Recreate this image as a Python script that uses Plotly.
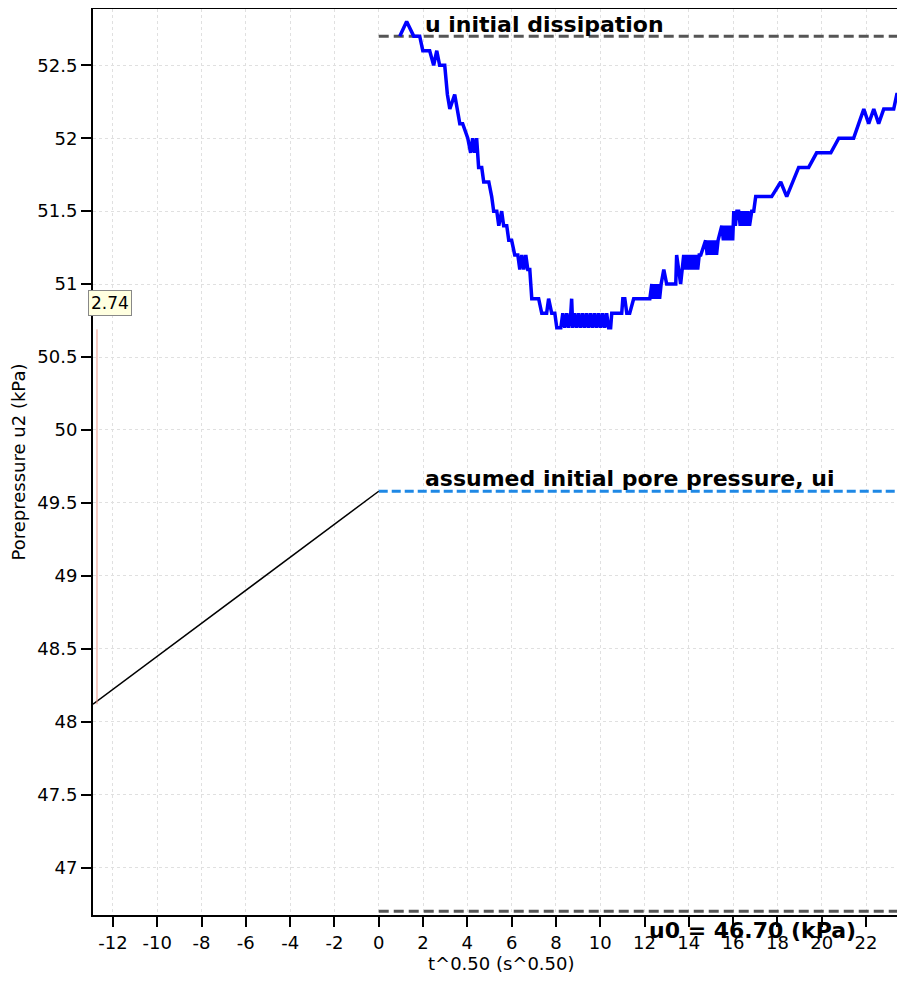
import plotly.graph_objects as go

# Dissipation-Messung, in drei Abschnitten
t_fall = [0.95, 1.26, 1.58, 1.85, 1.99, 2.30, 2.48, 2.62, 2.75, 2.98, 3.10, 3.21, 3.43, 3.55, 3.66, 3.79,
          4.02, 4.15, 4.24, 4.33, 4.42, 4.51, 4.65, 4.74, 4.97, 5.10, 5.19, 5.33, 5.42, 5.55, 5.64, 5.78,
          5.87, 6.00, 6.14, 6.28, 6.37, 6.46, 6.55, 6.64, 6.73, 6.82, 6.86, 6.91, 7.22, 7.36, 7.58, 7.67,
          7.81, 7.95]
u_fall = [52.7, 52.8, 52.7, 52.7, 52.6, 52.6, 52.5, 52.6, 52.5, 52.5, 52.3, 52.2, 52.3, 52.2, 52.1, 52.1,
          52.0, 51.9, 52.0, 51.9, 52.0, 51.8, 51.8, 51.7, 51.7, 51.6, 51.5, 51.5, 51.4, 51.5, 51.4, 51.4,
          51.3, 51.3, 51.2, 51.2, 51.1, 51.2, 51.1, 51.2, 51.1, 51.1, 51.0, 50.9, 50.9, 50.8, 50.8, 50.9,
          50.8, 50.8]

t_min = [8.04, 8.22, 8.31, 8.40, 8.49, 8.58, 8.67, 8.71, 8.76, 8.85, 8.94, 9.03, 9.12, 9.21, 9.30,
         9.39, 9.48, 9.57, 9.66, 9.75, 9.84, 9.93, 10.02, 10.11, 10.20, 10.29, 10.38, 10.47, 10.52,
         10.97, 11.02, 11.11, 11.20, 11.33, 11.51]
u_min = [50.7, 50.7, 50.8, 50.7, 50.8, 50.7, 50.8, 50.9, 50.7, 50.8, 50.7, 50.8, 50.7, 50.8, 50.7,
         50.8, 50.7, 50.8, 50.7, 50.8, 50.7, 50.8, 50.7, 50.8, 50.7, 50.8, 50.7, 50.7, 50.8,
         50.8, 50.9, 50.9, 50.8, 50.8, 50.9]

t_rise = [12.24, 12.33, 12.40, 12.47, 12.54, 12.61, 12.68, 12.75, 12.87, 13.00, 13.41, 13.45, 13.63, 13.77,
          13.84, 13.91, 13.98, 14.05, 14.12, 14.19, 14.26, 14.33, 14.40, 14.47, 14.54, 14.76, 14.83, 14.90,
          14.97, 15.04, 15.11, 15.18, 15.25, 15.32, 15.49, 15.56, 15.63, 15.70, 15.77, 15.84, 15.91, 15.98,
          16.03, 16.10, 16.17, 16.25, 16.32, 16.39, 16.46, 16.53, 16.60, 16.67, 16.74, 16.84, 16.93, 17.02,
          17.74, 18.15, 18.42, 18.96, 19.41, 19.77, 20.41, 20.77, 21.44, 21.67, 21.90, 22.12, 22.35, 22.57,
          22.80, 23.25, 23.39, 23.70]
u_rise = [50.9, 51.0, 50.9, 51.0, 50.9, 51.0, 50.9, 51.0, 51.1, 51.0, 51.0, 51.2, 51.0, 51.2,
          51.1, 51.2, 51.1, 51.2, 51.1, 51.2, 51.1, 51.2, 51.1, 51.2, 51.2, 51.3, 51.2, 51.3,
          51.2, 51.3, 51.2, 51.3, 51.2, 51.3, 51.4, 51.3, 51.4, 51.3, 51.4, 51.3, 51.4, 51.3,
          51.5, 51.4, 51.5, 51.5, 51.4, 51.5, 51.4, 51.5, 51.4, 51.5, 51.4, 51.5, 51.5, 51.6,
          51.6, 51.7, 51.6, 51.8, 51.8, 51.9, 51.9, 52.0, 52.0, 52.1, 52.2, 52.1, 52.2, 52.1,
          52.2, 52.2, 52.3, 52.3]

# Kennwerte
u_init_diss = 52.70
u_i = 49.58
u0 = 46.70
fit_x = [-12.9, 0.0]
fit_y = [48.12, u_i]
cursor_x = [-12.72, -12.72]
cursor_y = [48.12, 50.69]
cursor_label = "2.74"

x_ticks = list(range(-12, 23, 2))
x_ticktext = [str(v) for v in x_ticks]

x_start, x_end = -12.9, 23.76

fig = go.Figure()

# Hilfslinien
fig.add_trace(go.Scatter(x=[0, x_end], y=[u_init_diss, u_init_diss], mode='lines',
                         line=dict(color='#555555', width=3, dash='10px,5px')))
fig.add_trace(go.Scatter(x=[0, x_end], y=[u0, u0], mode='lines',
                         line=dict(color='#555555', width=3, dash='10px,5px')))
fig.add_trace(go.Scatter(x=[0, x_end], y=[u_i, u_i], mode='lines',
                         line=dict(color='#1e88e5', width=3, dash='9px,4px')))
fig.add_trace(go.Scatter(x=fit_x, y=fit_y, mode='lines', line=dict(color='black', width=1.5)))
fig.add_trace(go.Scatter(x=cursor_x, y=cursor_y, mode='lines', line=dict(color='#ee9988', width=1)))

# Messkurve
fig.add_trace(go.Scatter(x=t_fall + t_min + t_rise, y=u_fall + u_min + u_rise, mode='lines',
                         line=dict(color='#0000ff', width=3.5)))

lbl = dict(family="DejaVu Sans", size=22, color="black", weight="bold")
fig.add_annotation(x=2.0, y=u_init_diss, text="u initial dissipation", showarrow=False,
                   xanchor='left', yanchor='middle', yshift=12, font=lbl)
fig.add_annotation(x=2.0, y=u_i, text="assumed initial pore pressure, ui", showarrow=False,
                   xanchor='left', yanchor='middle', yshift=13, font=lbl)
fig.add_annotation(x=12.1, y=u0, text=f"u0 = {u0:.2f} (kPa)", showarrow=False,
                   xanchor='left', yanchor='middle', yshift=-19, font=lbl)
fig.add_annotation(x=-0.006, xref='paper', y=50.87, text=cursor_label, showarrow=False, xanchor='left',
                   font=dict(family="DejaVu Sans", size=17, color="black"),
                   bgcolor='#ffffe0', bordercolor='#888888', borderwidth=1, borderpad=2)

axis_font = dict(family="DejaVu Sans", size=18, color="black")
# x-Achsentitel als Annotation, damit er tiefer sitzen kann
fig.add_annotation(x=0.503, xref='paper', y=0, yref='paper', yshift=-48, text="t^0.50 (s^0.50)",
                   showarrow=False, xanchor='center', yanchor='middle', font=axis_font)

fig.update_xaxes(range=[x_start, x_end], tickvals=x_ticks, ticktext=x_ticktext,
                 showline=True, linecolor='black', linewidth=2,
                 mirror=True, ticks='outside', ticklen=10, tickwidth=2, tickcolor='black',
                 showgrid=True, gridcolor='#e0e0e0', griddash='3px,3px', gridwidth=1, zeroline=False,
                 tickfont=axis_font)
fig.update_yaxes(range=[46.675, 52.886], dtick=0.5, tick0=47, showline=True, linecolor='black', linewidth=2,
                 ticks='outside', ticklen=10, tickwidth=2, tickcolor='black',
                 showgrid=True, gridcolor='#e0e0e0', griddash='3px,3px', gridwidth=1, zeroline=False,
                 tickfont=axis_font, title=dict(text="Porepressure u2 (kPa)", font=axis_font, standoff=12))

fig.update_layout(width=897, height=967, margin=dict(l=85, r=0, t=1, b=60),
                  plot_bgcolor='white', paper_bgcolor='white', showlegend=False,
                  font=dict(family="DejaVu Sans"))

fig.write_html("out.html")
